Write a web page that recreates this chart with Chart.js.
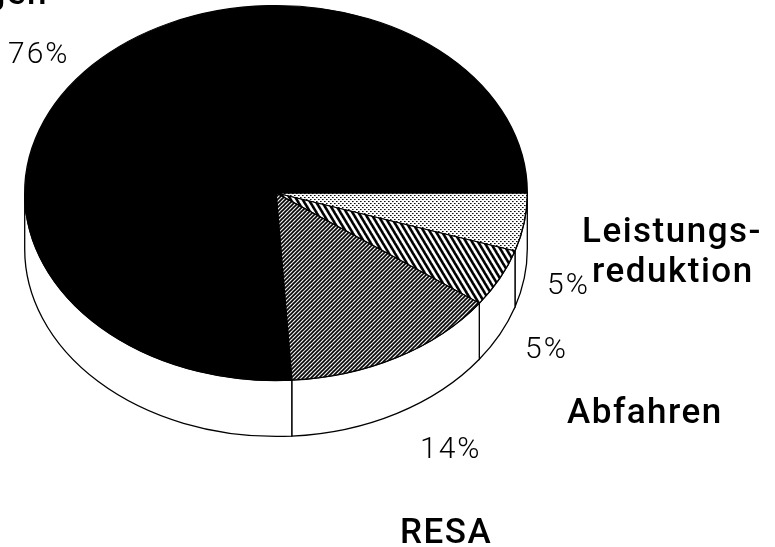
<!DOCTYPE html>
<html>
<head>
<meta charset="utf-8">
<script src="https://cdn.jsdelivr.net/npm/chart.js@4/dist/chart.umd.min.js"></script>
<style>
  html, body { margin: 0; padding: 0; background: #fff; }
  #wrap { width: 775px; height: 547px; position: relative; overflow: hidden; }
</style>
</head>
<body>
<div id="wrap"><canvas id="pie" width="775" height="547"></canvas></div>
<script>
// Shares of each outcome, clockwise from 3 o'clock
const categories = ['Leistungsreduktion', 'Abfahren', 'RESA', 'Verzögerungen'];
const shares = [5, 5, 14, 76];
// How each category name is broken into lines on the page
const nameLines = [['Leistungs-', 'reduktion'], ['Abfahren'], ['RESA'], ['Verzögerungen']];

// Placement of the text blocks (x / baseline y in px, alignment)
const nameSpots = [
  [[582, 242, 'left'], [592, 282, 'left']],
  [[567, 423, 'left']],
  [[400, 543, 'left']],
  [[48, 4, 'right']]
];
const shareSpots = [[547, 294], [525, 358], [420, 458], [8, 63]];

// Tilted-disc look
const TILT = 0.746;      // vertical squash of the disc
const CENTER_Y = 193;    // on-screen centre of the top face
const DEPTH = 56;        // thickness of the disc wall

// ---- fill patterns -------------------------------------------------------
function tile(w, h, paint) {
  const c = document.createElement('canvas');
  c.width = w; c.height = h;
  const g = c.getContext('2d');
  g.fillStyle = '#fff';
  g.fillRect(0, 0, w, h);
  paint(g, w, h);
  return c;
}
function stripes(w, h, lw, dir) {
  return tile(w, h, (g) => {
    g.strokeStyle = '#000';
    g.lineWidth = lw;
    g.lineCap = 'square';
    for (let k = -2; k <= 2; k++) {
      g.beginPath();
      if (dir > 0) { // "\" lines
        g.moveTo(k * w - w, -h); g.lineTo(k * w + 2 * w, 2 * h);
      } else {       // "/" lines
        g.moveTo(k * w - w, 2 * h); g.lineTo(k * w + 2 * w, -h);
      }
      g.stroke();
    }
  });
}
const dotTile = tile(4, 4, (g) => {
  g.fillStyle = '#000';
  g.fillRect(0, 0, 1, 1);
  g.fillRect(2, 2, 1, 1);
  g.fillStyle = 'rgba(0,0,0,0.6)';
  g.fillRect(1, 0, 1, 1);
  g.fillRect(3, 2, 1, 1);
});
const wideHatch = stripes(6, 10, 2.6, 1);
const denseHatch = stripes(4, 4, 1.7, -1);

const canvas = document.getElementById('pie');
const ctx = canvas.getContext('2d');
function pat(t) {
  const p = ctx.createPattern(t, 'repeat');
  // undo the vertical squash so the hatching keeps its angle
  p.setTransform(new DOMMatrix().scale(1, 1 / TILT));
  return p;
}
const fills = [pat(dotTile), pat(wideHatch), pat(denseHatch), '#000'];

// ---- disc wall + squash of the top face ----------------------------------
const discPlugin = {
  id: 'disc',
  beforeDatasetsDraw(chart) {
    const c = chart.ctx;
    const arcs = chart.getDatasetMeta(0).data;
    if (!arcs.length) return;
    const cx = arcs[0].x, cy = arcs[0].y, rx = arcs[0].outerRadius;
    const ry = rx * TILT;
    c.save();
    c.lineWidth = 1.3;
    c.strokeStyle = '#000';
    c.fillStyle = '#fff';
    arcs.forEach((a) => {
      const s = Math.max(a.startAngle, 0);
      const e = Math.min(a.endAngle, Math.PI);
      if (e <= s) return;
      c.beginPath();
      c.ellipse(cx, CENTER_Y, rx, ry, 0, s, e, false);
      c.lineTo(cx + rx * Math.cos(e), CENTER_Y + ry * Math.sin(e) + DEPTH);
      c.ellipse(cx, CENTER_Y + DEPTH, rx, ry, 0, e, s, true);
      c.closePath();
      c.fill();
      c.stroke();
    });
    c.restore();
    // draw the top face of the disc squashed into an ellipse
    c.save();
    c.translate(cx, CENTER_Y);
    c.scale(1, TILT);
    c.translate(-cx, -cy);
  },
  afterDatasetsDraw(chart) {
    chart.ctx.restore();
  },
  afterDraw(chart) {
    const c = chart.ctx;
    c.save();
    c.fillStyle = '#000';
    c.textBaseline = 'alphabetic';
    c.font = '500 35px Roboto, "Liberation Sans", Arial, sans-serif';
    c.letterSpacing = '1.5px';
    nameLines.forEach((lines, i) => {
      lines.forEach((txt, j) => {
        const [x, y, al] = nameSpots[i][j];
        c.textAlign = al;
        c.fillText(txt, x, y);
      });
    });
    c.font = '300 30px Roboto, "Liberation Sans", sans-serif';
    c.letterSpacing = '2px';
    c.textAlign = 'left';
    shares.forEach((v, i) => {
      const [x, y] = shareSpots[i];
      c.fillText(v + '%', x, y);
    });
    c.restore();
  }
};

new Chart(canvas, {
  type: 'pie',
  data: {
    labels: categories,
    datasets: [{
      data: shares,
      backgroundColor: fills,
      borderColor: '#000',
      borderWidth: 1.4,
      clip: false
    }]
  },
  options: {
    responsive: false,
    animation: false,
    rotation: 90,
    layout: { padding: { left: 24, right: 247, top: 0, bottom: 43 } },
    plugins: {
      legend: { display: false },
      tooltip: { enabled: false }
    }
  },
  plugins: [discPlugin]
});
</script>
</body>
</html>
